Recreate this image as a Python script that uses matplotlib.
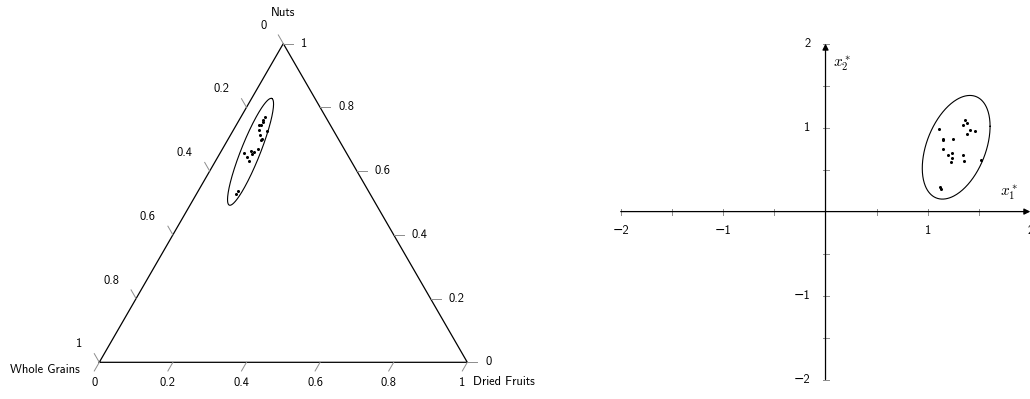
import numpy as np
import matplotlib.pyplot as plt

plt.rcParams['font.family'] = ['cmss10', 'DejaVu Sans']
plt.rcParams['mathtext.fontset'] = 'cm'

# composition sample
nuts = [0.770, 0.760, 0.755, 0.746, 0.746, 0.730, 0.725, 0.712, 0.702, 0.696,
        0.670, 0.661, 0.663, 0.653, 0.657, 0.644, 0.631, 0.538, 0.527]
dried_fruits = [0.065, 0.065, 0.067, 0.062, 0.067, 0.070, 0.094, 0.080, 0.090, 0.091,
                0.096, 0.089, 0.080, 0.088, 0.065, 0.079, 0.092, 0.109, 0.108]
whole_grains = [1 - n - d for n, d in zip(nuts, dried_fruits)]
tern_ticks = [0, 0.2, 0.4, 0.6, 0.8, 1]
tern_tick_labels = ['0', '0.2', '0.4', '0.6', '0.8', '1']

# confidence region on the simplex (triangle cartesian coords)
tern_ell_center = (0.411, 0.572)
tern_ell_axes = (0.156, 0.026)
tern_ell_angle = 68.3

# same sample in ilr coordinates
x1_star = [1.104, 1.149, 1.149, 1.247, 1.149, 1.198, 1.231, 1.240, 1.221, 1.338,
           1.357, 1.367, 1.383, 1.347, 1.412, 1.461, 1.386, 1.516, 1.120, 1.123]
x2_star = [0.980, 0.870, 0.850, 0.870, 0.751, 0.672, 0.692, 0.640, 0.585, 0.672,
           0.601, 1.087, 1.055, 1.028, 0.968, 0.960, 0.921, 0.613, 0.296, 0.269]
ilr_ell_center = (1.276, 0.766)
ilr_ell_cov = [[0.1096, 0.0827], [0.0827, 0.381]]
ilr_ticks = [-2, -1.5, -1, -0.5, 0.5, 1, 1.5, 2]
ilr_labels = {-2: '\u22122', -1: '\u22121', 1: '1', 2: '2'}

PX = 0.72  # one pixel in points at dpi 100
R3 = np.sqrt(3) / 2


def to_xy(df, n):
    df = np.asarray(df)
    n = np.asarray(n)
    return df + 0.5 * n, R3 * n


def label(ax, xy, text, dx, dy, ha='center', va='center', size=9):
    ax.annotate(text, xy, xytext=(dx * PX, -dy * PX), textcoords='offset points',
                ha=ha, va=va, fontsize=size, annotation_clip=False)


fig = plt.figure(figsize=(10.3, 3.99), dpi=100)

# ---------- ternary plot ----------
ax = fig.add_axes([0, 0, 515 / 1030, 1])
ax.set_xlim(-0.2698, 1.1296)
ax.set_ylim(-0.0997, 0.9845)
ax.axis('off')

bl = np.array([0.0, 0.0])
br = np.array([1.0, 0.0])
top = np.array([0.5, R3])
tri = np.array([bl, br, top, bl])
ax.plot(tri[:, 0], tri[:, 1], color='black', lw=0.9, solid_joinstyle='miter')

tl = 10 / 368
tick_kw = dict(color='0.55', lw=0.7)
for t, s in zip(tern_ticks, tern_tick_labels):
    # bottom edge: dried fruits
    p = bl + t * (br - bl)
    ax.plot([p[0], p[0] - 0.5 * tl], [p[1], p[1] - R3 * tl], **tick_kw)
    label(ax, p, s, -5, 21)
    # right edge: nuts
    p = br + t * (top - br)
    ax.plot([p[0], p[0] + tl], [p[1], p[1]], **tick_kw)
    label(ax, p, s, 18, 0, ha='left')
    # left edge: whole grains
    p = top + t * (bl - top)
    ax.plot([p[0], p[0] - 0.5 * tl], [p[1], p[1] + R3 * tl], **tick_kw)
    label(ax, p, s, -17, -18, ha='right')

label(ax, top, 'Nuts', 0, -31)
label(ax, bl, 'Whole Grains', -20, 8, ha='right')
label(ax, br, 'Dried Fruits', 5.5, 20, ha='left')

tx, ty = to_xy(dried_fruits, nuts)
ax.plot(tx, ty, 'o', ms=2.2, color='black', mec='none')

phi = np.linspace(0, 2 * np.pi, 300)
a, b = tern_ell_axes
th = np.radians(tern_ell_angle)
ex = tern_ell_center[0] + a * np.cos(phi) * np.cos(th) - b * np.sin(phi) * np.sin(th)
ey = tern_ell_center[1] + a * np.cos(phi) * np.sin(th) + b * np.sin(phi) * np.cos(th)
ax.plot(ex, ey, color='black', lw=0.8)

# ---------- ilr plot ----------
ax2 = fig.add_axes([560 / 1030, 0, 470 / 1030, 1])
ax2.set_xlim(-2.593, 1.997)
ax2.set_ylim(-2.232, 2.520)
ax2.axis('off')

arrow = dict(arrowstyle='-|>', lw=0.9, color='black', mutation_scale=9,
             shrinkA=0, shrinkB=0)
ax2.annotate('', xy=(2, 0), xytext=(-2, 0), arrowprops=arrow, annotation_clip=False)
ax2.annotate('', xy=(0, 2), xytext=(0, -2), arrowprops=arrow, annotation_clip=False)

hx = 3 / 84
hy = 3 / 102.4
for t in ilr_ticks:
    ax2.plot([t, t], [-hx, hx], color='0.55', lw=0.7, clip_on=False)
    ax2.plot([-hy, hy], [t, t], color='0.55', lw=0.7, clip_on=False)
for t, s in ilr_labels.items():
    label(ax2, (t, 0), s, 0, 19)
    label(ax2, (0, t), s, -15, 0, ha='right')

ax2.text(1.79, 0.22, r'$x_1^*$', fontsize=11, ha='center', va='center')
ax2.text(0.164, 1.767, r'$x_2^*$', fontsize=11, ha='center', va='center')

ax2.plot(x1_star, x2_star, 'o', ms=2.2, color='black', mec='none')

L = np.linalg.cholesky(np.array(ilr_ell_cov))
circ = np.vstack([np.cos(phi), np.sin(phi)])
ell = L @ circ
ax2.plot(ilr_ell_center[0] + ell[0], ilr_ell_center[1] + ell[1], color='black', lw=0.8)

fig.savefig('out.png', dpi=100)
